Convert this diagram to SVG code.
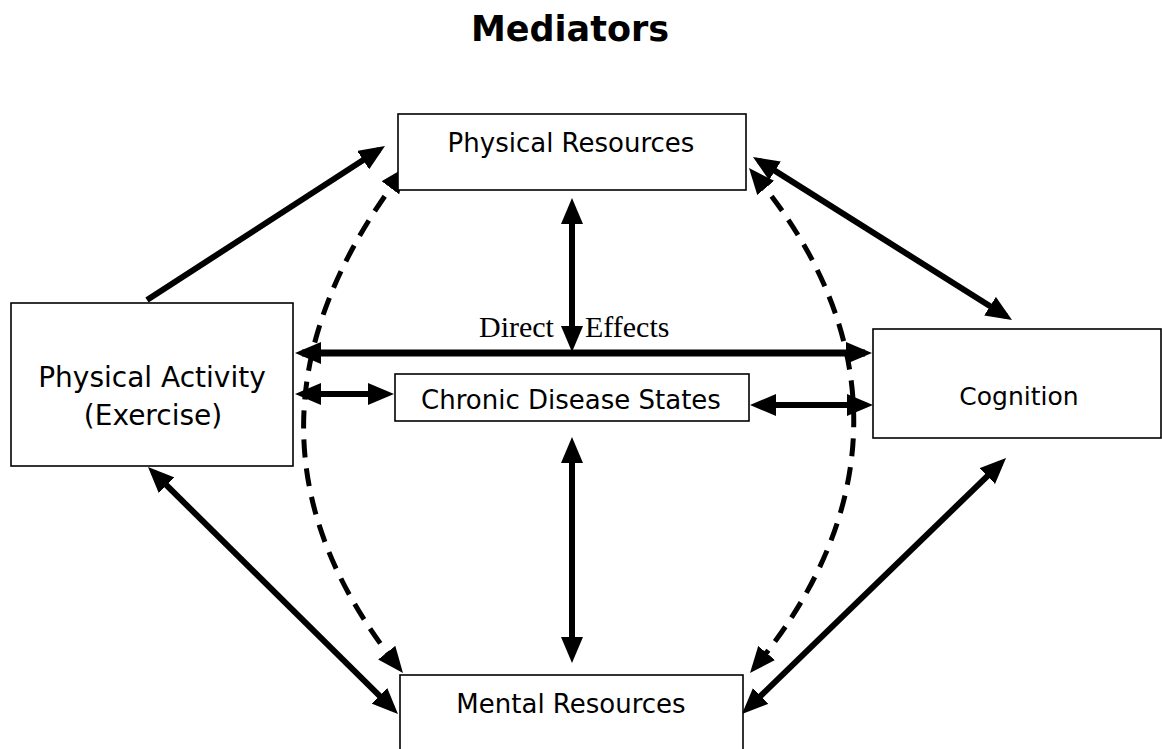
<svg xmlns="http://www.w3.org/2000/svg" width="1162" height="749" viewBox="0 0 1162 749">
<style>
.box{fill:#fff;stroke:#000;stroke-width:1.6}
.lbl{font-family:"DejaVu Sans","Open Sans",sans-serif;font-size:26px;fill:#000;text-anchor:middle}
.title{font-family:"DejaVu Sans","Open Sans",sans-serif;font-size:35px;font-weight:bold;fill:#000;text-anchor:middle}
.serif{font-family:"Liberation Serif","Times New Roman",serif;font-size:30px;fill:#000}
.solid{fill:none;stroke:#000;stroke-width:6}
.dash{fill:none;stroke:#000;stroke-width:5;stroke-dasharray:18 11}
</style>
<defs>
<marker id="ah" viewBox="0 0 26 22" markerWidth="26" markerHeight="22" refX="19" refY="11" orient="auto-start-reverse" markerUnits="userSpaceOnUse">
<path d="M0,0 L26,11 L0,22 z" fill="#000"/>
</marker>
</defs>
<rect width="1162" height="749" fill="#fff"/>
<text class="title" x="570" y="41">Mediators</text>
<g id="connectors">
<line class="solid" x1="147" y1="300" x2="379.1" y2="149.8" marker-end="url(#ah)"/>
<path class="dash" d="M401.8,172.6 C277,338 266,502 398.6,667.5" marker-start="url(#ah)" marker-end="url(#ah)"/>
<path class="dash" d="M753.5,173.4 C889,335 885,511 754.5,667.6" marker-start="url(#ah)" marker-end="url(#ah)"/>
<line class="solid" x1="758.9" y1="160.7" x2="1006.1" y2="316.3" marker-start="url(#ah)" marker-end="url(#ah)"/>
<line class="solid" x1="572" y1="205" x2="572" y2="345" marker-start="url(#ah)" marker-end="url(#ah)"/>
<line class="solid" style="stroke-width:7" x1="302" y1="353" x2="865" y2="353" marker-start="url(#ah)" marker-end="url(#ah)"/>
<line class="solid" x1="302" y1="394" x2="387" y2="394" marker-start="url(#ah)" marker-end="url(#ah)"/>
<line class="solid" x1="757" y1="405" x2="866" y2="405" marker-start="url(#ah)" marker-end="url(#ah)"/>
<line class="solid" x1="572" y1="444" x2="572" y2="656" marker-start="url(#ah)" marker-end="url(#ah)"/>
<line class="solid" x1="153" y1="471.9" x2="393" y2="709.1" marker-start="url(#ah)" marker-end="url(#ah)"/>
<line class="solid" x1="747" y1="709.1" x2="1001" y2="462.9" marker-start="url(#ah)" marker-end="url(#ah)"/>
</g>
<text class="serif" x="479" y="337">Direct</text>
<text class="serif" x="585" y="337">Effects</text>
<g id="physical-resources">
<rect class="box" x="398" y="114" width="348" height="76"/>
<text class="lbl" x="571" y="152">Physical Resources</text>
</g>
<g id="physical-activity">
<rect class="box" x="11" y="303" width="282" height="163"/>
<text class="lbl" style="font-size:28px" x="152" y="387">Physical Activity</text>
<text class="lbl" style="font-size:28px" x="153" y="425">(Exercise)</text>
</g>
<g id="chronic-disease">
<rect class="box" x="395" y="374" width="354" height="47"/>
<text class="lbl" x="571" y="409">Chronic Disease States</text>
</g>
<g id="cognition">
<rect class="box" x="873" y="329" width="288" height="109"/>
<text class="lbl" style="font-size:25px" x="1019" y="405">Cognition</text>
</g>
<g id="mental-resources">
<rect class="box" x="400" y="675" width="343" height="80"/>
<text class="lbl" x="571" y="713">Mental Resources</text>
</g>
</svg>
